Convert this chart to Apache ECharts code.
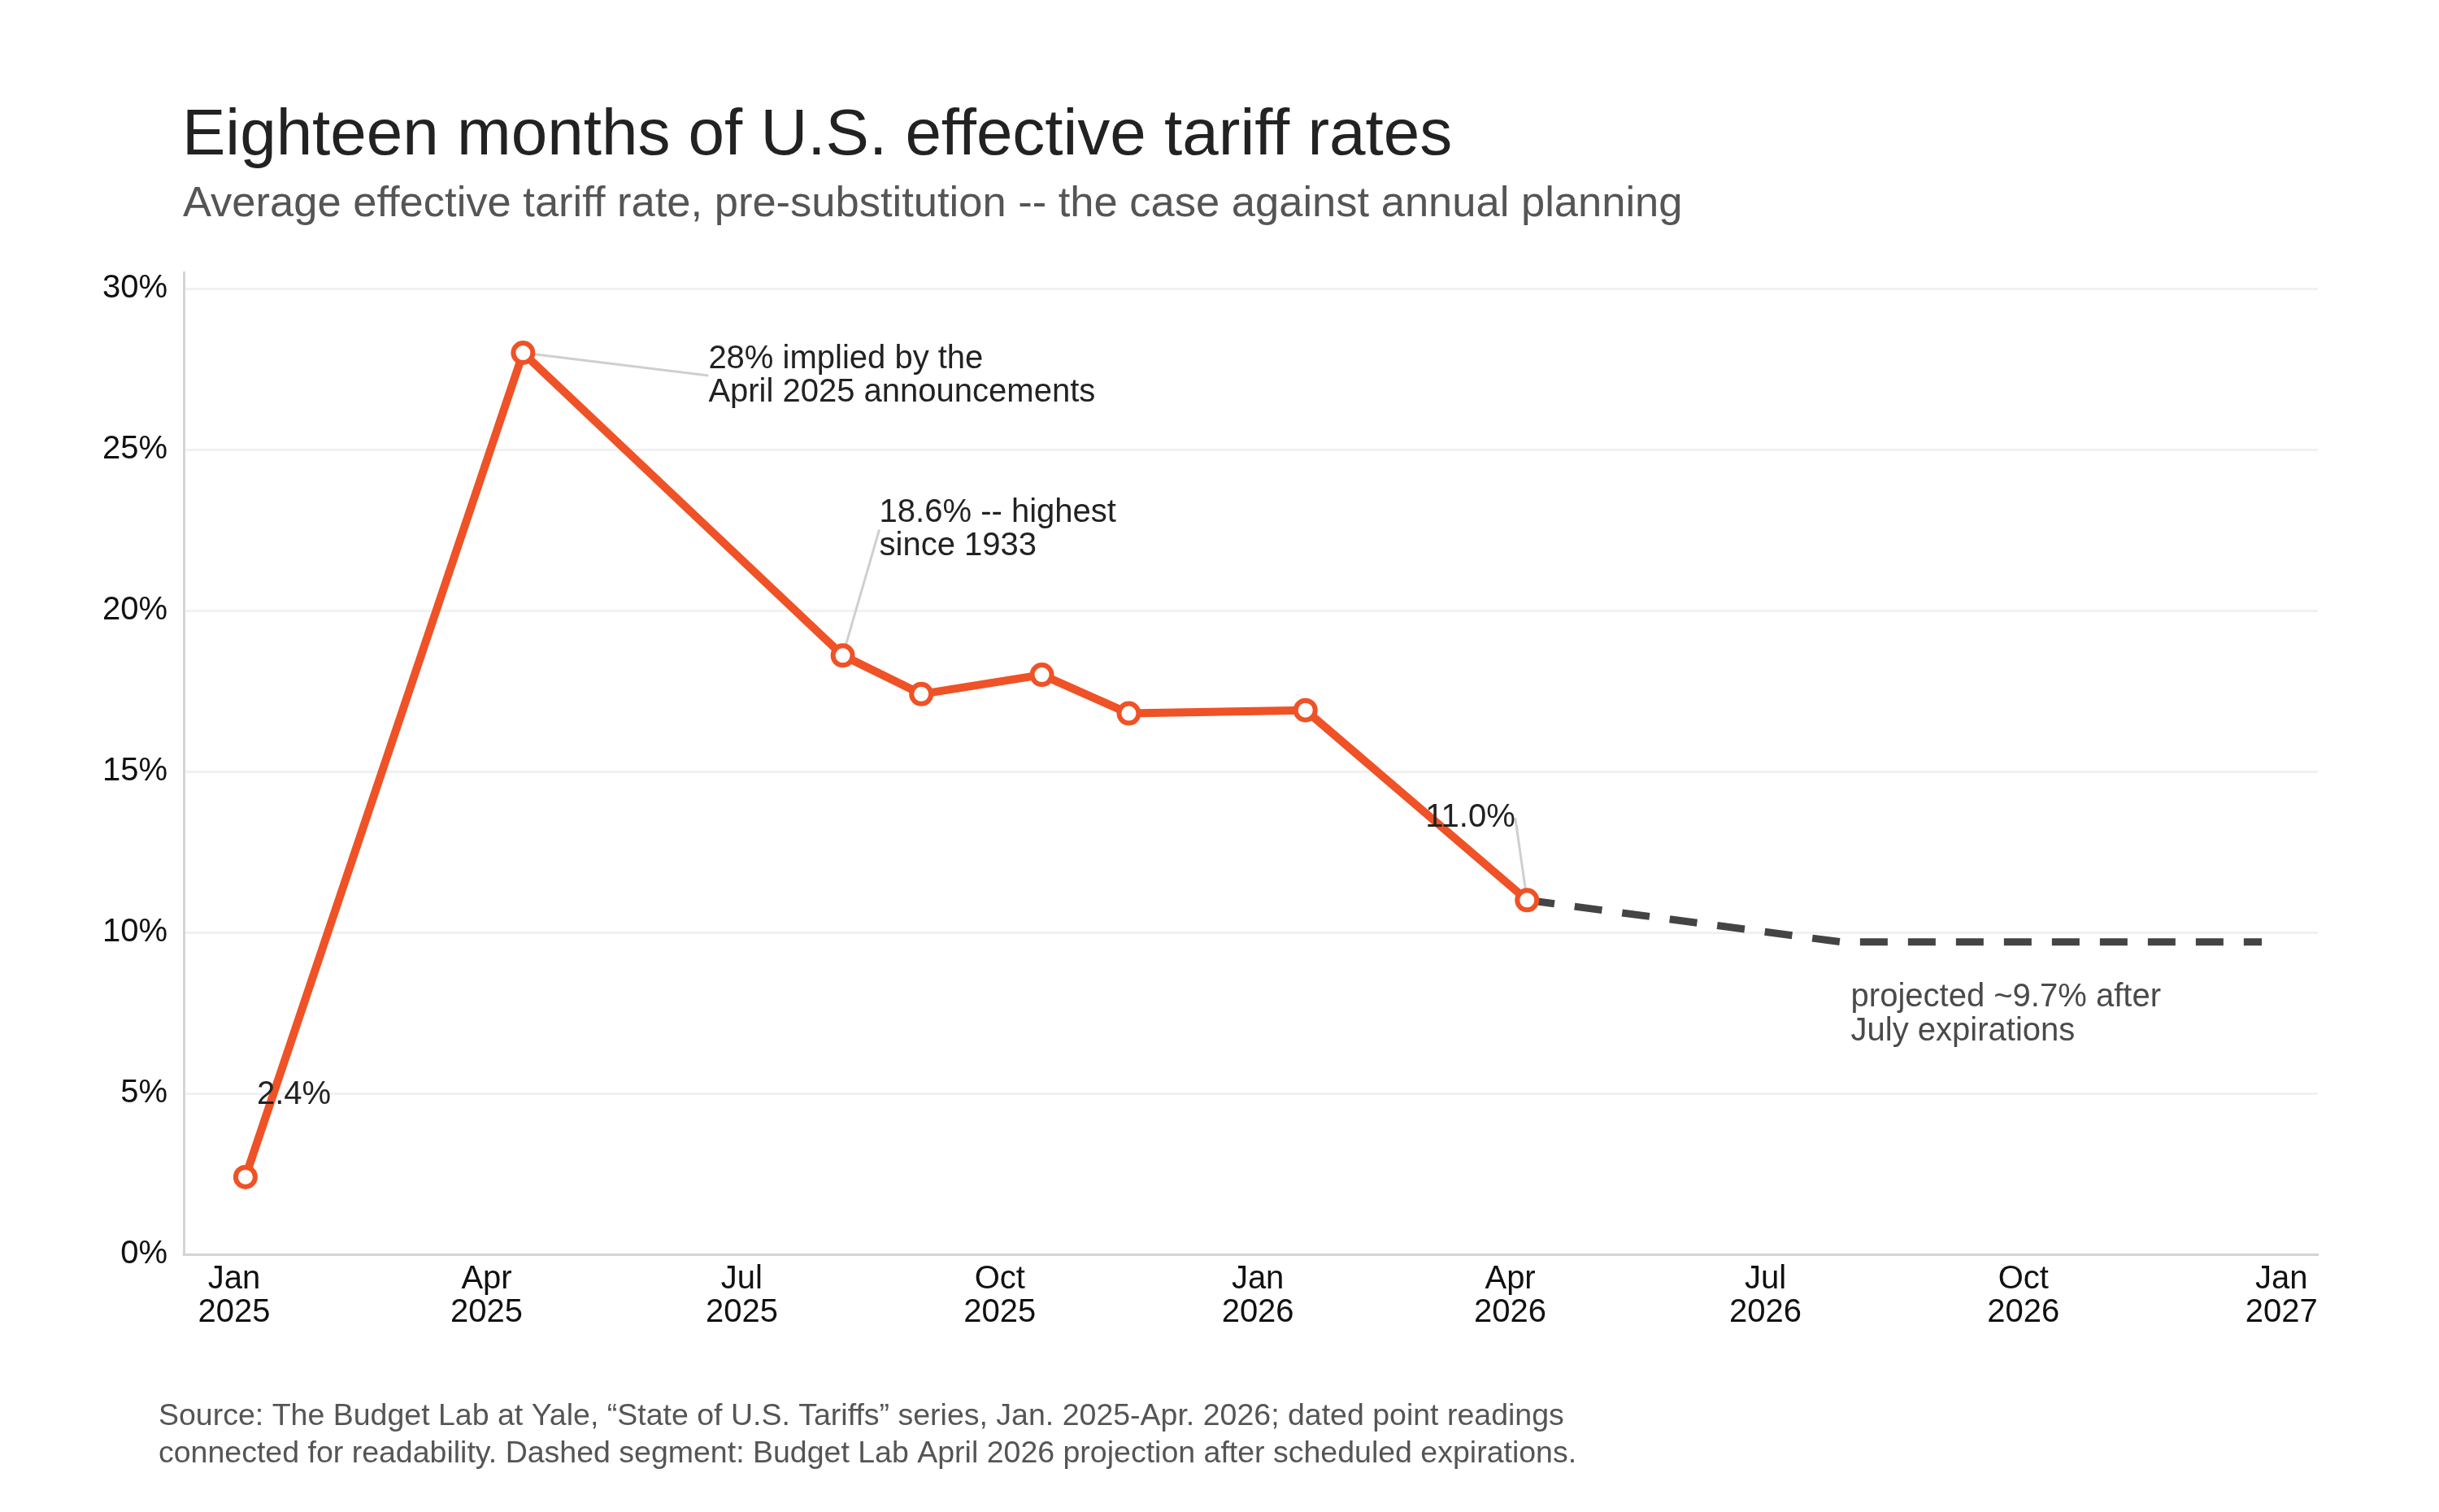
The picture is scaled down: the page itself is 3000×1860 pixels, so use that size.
<!DOCTYPE html>
<html>
<head>
<meta charset="utf-8">
<title>U.S. effective tariff rates</title>
<script src="https://cdn.jsdelivr.net/npm/echarts@6/dist/echarts.min.js"></script>
<style>
  html, body { margin: 0; padding: 0; background: #fff; }
  #main { width: 3000px; height: 1860px; }
</style>
</head>
<body>
<div id="main"></div>
<script>
// observed readings (Budget Lab at Yale)
var obsDates = ['2025-01-05', '2025-04-14', '2025-08-06', '2025-09-03', '2025-10-16',
                '2025-11-16', '2026-01-18', '2026-04-07'];
var obsRates = [2.4, 28.0, 18.6, 17.4, 18.0, 16.8, 16.9, 11.0];

// projection after scheduled July expirations
var projDates = ['2026-04-07', '2026-07-28', '2026-12-25'];
var projRates = [11.0, 9.7, 9.7];

// x axis tick labels (quarter starts)
var tickDates = ['2025-01-01', '2025-04-01', '2025-07-01', '2025-10-01', '2026-01-01',
                 '2026-04-01', '2026-07-01', '2026-10-01', '2027-01-01'];
var monthNames = ['Jan', 'Feb', 'Mar', 'Apr', 'May', 'Jun', 'Jul', 'Aug', 'Sep', 'Oct', 'Nov', 'Dec'];

// annotation texts, by index in obsDates
var obsNotes = {
    0: {text: '2.4%', dx: 14, dy: -121, line: false},
    1: {text: '28% implied by the\nApril 2025 announcements', dx: 228, dy: -13, line: true},
    2: {text: '18.6% -- highest\nsince 1933', dx: 45, dy: -196, line: true},
    7: {text: '11.0%', dx: -125, dy: -122, line: true}
};
var projNoteText = 'projected ~9.7% after\nJuly expirations';

var FONT = '"Liberation Sans", Arial, Helvetica, sans-serif';
var ORANGE = '#ef5226';

function toTime(s) {
    var p = s.split('-');
    return new Date(+p[0], +p[1] - 1, +p[2]).getTime();
}

var obsData = [];
for (var i = 0; i < obsDates.length; i++) {
    var item = {value: [toTime(obsDates[i]), obsRates[i]]};
    var note = obsNotes[i];
    if (note) {
        item.label = {
            show: true,
            position: 'inside',
            align: 'left',
            verticalAlign: 'top',
            formatter: note.text,
            fontFamily: FONT,
            fontSize: 40,
            lineHeight: 41,
            color: '#222'
        };
        item.labelLine = {show: note.line, lineStyle: {color: '#cfcfcf', width: 3}};
    }
    obsData.push(item);
}

var projData = [];
for (var j = 0; j < projDates.length; j++) {
    var pItem = {value: [toTime(projDates[j]), projRates[j]]};
    if (j == 1) {
        pItem.symbol = 'circle';
        pItem.symbolSize = 2;
        pItem.itemStyle = {color: 'transparent', borderWidth: 0};
        pItem.label = {
            show: true,
            position: 'inside',
            align: 'left',
            verticalAlign: 'top',
            formatter: projNoteText,
            fontFamily: FONT,
            fontSize: 40,
            lineHeight: 42,
            color: '#4a4a4a'
        };
    }
    projData.push(pItem);
}

var tickValues = tickDates.map(toTime);

var chart = echarts.init(document.getElementById('main'));
var option = {
    animation: false,
    backgroundColor: '#fff',
    textStyle: {fontFamily: FONT},
    title: [{
        text: 'Eighteen months of U.S. effective tariff rates',
        left: 224,
        top: 122,
        padding: 0,
        textStyle: {fontFamily: FONT, fontSize: 80, lineHeight: 92, fontWeight: 'normal', color: '#222'}
    }, {
        text: 'Average effective tariff rate, pre-substitution -- the case against annual planning',
        left: 225,
        top: 222,
        padding: 0,
        textStyle: {fontFamily: FONT, fontSize: 52.5, lineHeight: 60, fontWeight: 'normal', color: '#555'}
    }, {
        text: 'Source: The Budget Lab at Yale, \u201cState of U.S. Tariffs\u201d series, Jan. 2025-Apr. 2026; dated point readings\nconnected for readability. Dashed segment: Budget Lab April 2026 projection after scheduled expirations.',
        left: 195,
        top: 1720,
        padding: 0,
        textStyle: {fontFamily: FONT, fontSize: 37.5, lineHeight: 46, fontWeight: 'normal', color: '#555'}
    }],
    grid: {
        left: 226,
        right: 149,
        top: 335,
        bottom: 317,
        containLabel: false,
        outerBoundsMode: 'none'
    },
    xAxis: {
        type: 'value',
        min: toTime('2024-12-14'),
        max: toTime('2027-01-14'),
        axisLine: {show: true, lineStyle: {color: '#d4d4d4', width: 3}},
        axisTick: {show: false},
        splitLine: {show: false},
        axisLabel: {
            customValues: tickValues,
            formatter: function (val) {
                var d = new Date(val);
                return monthNames[d.getMonth()] + '\n' + d.getFullYear();
            },
            fontFamily: FONT,
            fontSize: 40,
            lineHeight: 41,
            color: '#111',
            margin: 10,
            hideOverlap: false
        }
    },
    yAxis: {
        type: 'value',
        min: 0,
        max: 30.5,
        interval: 5,
        axisLine: {show: true, lineStyle: {color: '#d4d4d4', width: 3}},
        axisTick: {show: false},
        splitLine: {show: true, showMaxLine: false, lineStyle: {color: '#f1f1f1', width: 3}},
        axisLabel: {
            formatter: function (v) { return v % 5 === 0 ? v + '%' : ''; },
            showMaxLabel: false,
            fontFamily: FONT,
            fontSize: 40,
            color: '#111',
            margin: 20
        }
    },
    series: [{
        name: 'projection',
        type: 'line',
        data: projData,
        symbol: 'none',
        lineStyle: {color: '#444', width: 9, type: [34, 25], cap: 'butt'},
        itemStyle: {color: '#444'},
        labelLayout: function (p) {
            return p.dataIndex == 1 ? {dx: 12, dy: 47} : {};
        },
        emphasis: {disabled: true}
    }, {
        name: 'effective rate',
        type: 'line',
        data: obsData,
        symbol: 'circle',
        symbolSize: 24,
        lineStyle: {color: ORANGE, width: 10},
        itemStyle: {color: '#fff', borderColor: ORANGE, borderWidth: 6},
        labelLayout: function (p) {
            var n = obsNotes[p.dataIndex];
            return n ? {dx: n.dx, dy: n.dy} : {};
        },
        emphasis: {disabled: true}
    }]
};
chart.setOption(option);
</script>
</body>
</html>
